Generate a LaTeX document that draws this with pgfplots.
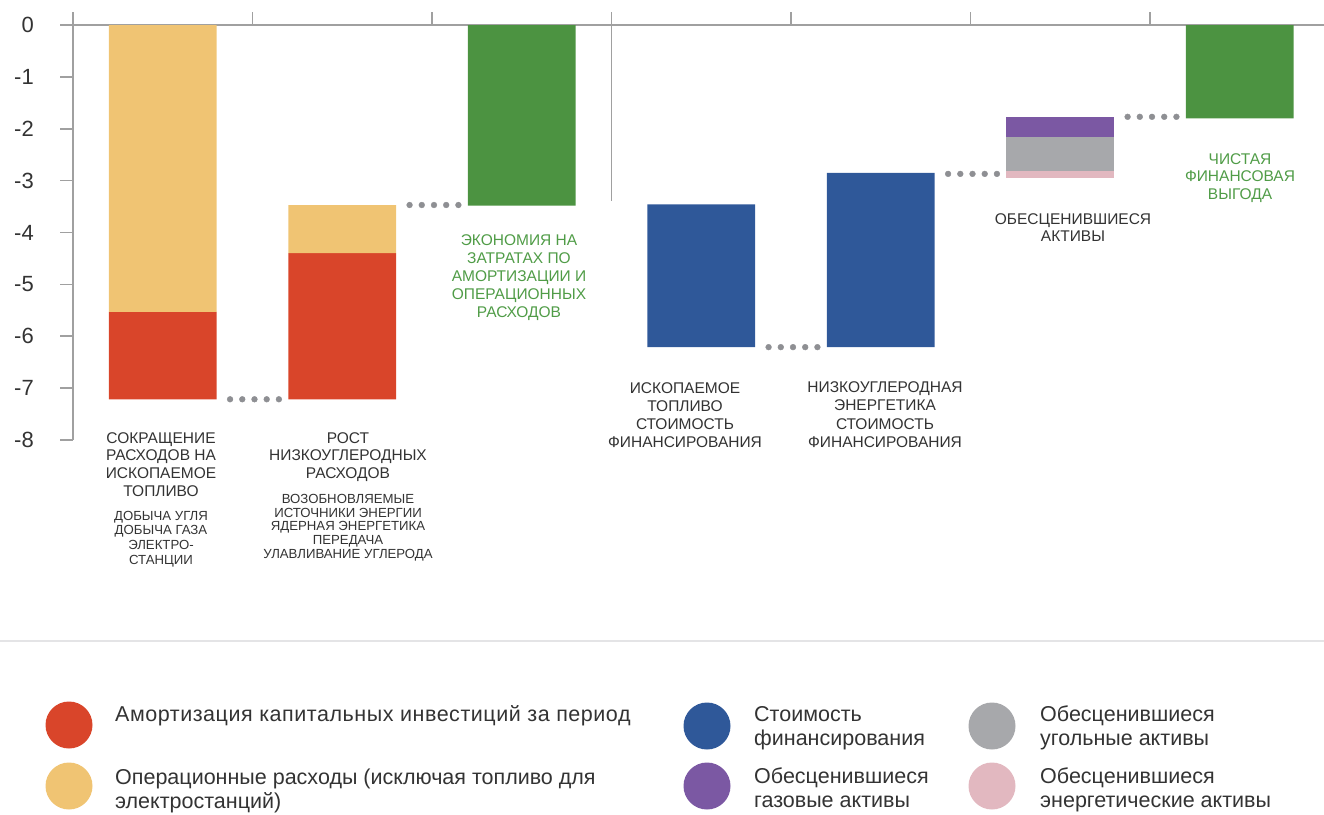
\documentclass[border=0pt]{standalone}
\usepackage{pgfplots}
\pgfplotsset{compat=1.18}
\usepackage{fontspec}
\setmainfont{Liberation Sans}
\definecolor{cRed}{HTML}{D9452A}
\definecolor{cYel}{HTML}{F0C473}
\definecolor{cGrn}{HTML}{4C9341}
\definecolor{cBlu}{HTML}{2F5899}
\definecolor{cPur}{HTML}{7B58A3}
\definecolor{cGry}{HTML}{A7A8AB}
\definecolor{cPnk}{HTML}{E2B8C0}
\definecolor{axisgray}{HTML}{A0A0A0}
\definecolor{dotgray}{HTML}{8E8F93}
\definecolor{txt}{HTML}{333333}
\definecolor{gtxt}{HTML}{509C47}
\definecolor{sepc}{HTML}{E4E4E6}
\newcommand{\catfont}{\fontsize{15.5}{17.7}\selectfont}
\newcommand{\subfont}{\fontsize{13.2}{14}\selectfont}
\newcommand{\legfont}{\fontsize{21.5}{24}\selectfont}
\newcommand{\mlines}[5]{\foreach \t [count=\i from 0] in {#5} {\node[anchor=base, inner sep=0pt, #4] at (#1pt,{-(#2+\i*#3)*1pt}) {\t};}}
\begin{document}
\begin{tikzpicture}
\useasboundingbox (0pt,0pt) rectangle (1324pt,-814pt);
\begin{axis}[
  at={(73pt,-25pt)}, anchor=north west,
  scale only axis, width=1251pt, height=415pt,
  xmin=-0.5, xmax=6.469, ymin=-8, ymax=0,
  axis x line*=top, axis y line*=left,
  axis line style={draw=axisgray, line width=1.5pt},
  tick style={draw=axisgray, line width=1.5pt},
  tick align=outside, major tick length=13pt,
  xtick={-0.5,0.5,1.5,2.5,3.5,4.5,5.5}, xticklabels={},
  ytick={-8,-7,-6,-5,-4,-3,-2,-1,0},
  yticklabels={-8,-7,-6,-5,-4,-3,-2,-1,0},
  yticklabel style={font=\fontsize{22}{22}\selectfont, text=txt, anchor=east, inner sep=0pt, xshift=-26pt},
  ybar stacked, bar width=0.6,
  clip=false,
]
% invisible base
\addplot[draw=none, fill=none] coordinates {(0,0) (1,-3.47) (2,0) (3,-3.46) (4,-2.85) (5,-1.77) (6,0)};
% operating costs
\addplot[draw=none, fill=cYel] coordinates {(0,-5.53) (1,-0.93) (2,0) (3,0) (4,0) (5,0) (6,0)};
% depreciation
\addplot[draw=none, fill=cRed] coordinates {(0,-1.685) (1,-2.815) (2,0) (3,0) (4,0) (5,0) (6,0)};
% savings / net benefit
\addplot[draw=none, fill=cGrn] coordinates {(0,0) (1,0) (2,-3.48) (3,0) (4,0) (5,0) (6,-1.80)};
% cost of financing
\addplot[draw=none, fill=cBlu] coordinates {(0,0) (1,0) (2,0) (3,-2.75) (4,-3.36) (5,0) (6,0)};
% stranded gas
\addplot[draw=none, fill=cPur] coordinates {(0,0) (1,0) (2,0) (3,0) (4,0) (5,-0.395) (6,0)};
% stranded coal
\addplot[draw=none, fill=cGry] coordinates {(0,0) (1,0) (2,0) (3,0) (4,0) (5,-0.655) (6,0)};
% stranded power
\addplot[draw=none, fill=cPnk] coordinates {(0,0) (1,0) (2,0) (3,0) (4,0) (5,-0.135) (6,0)};
\end{axis}
\begin{axis}[
  at={(73pt,-25pt)}, anchor=north west,
  scale only axis, width=1251pt, height=415pt,
  xmin=-0.5, xmax=6.469, ymin=-8, ymax=0,
  hide axis, clip=false,
]
\addplot[only marks, mark=*, mark size=2.9pt, color=dotgray] coordinates {
 (0.375,-7.215) (0.443,-7.215) (0.511,-7.215) (0.579,-7.215) (0.647,-7.215)
 (1.375,-3.47) (1.443,-3.47) (1.511,-3.47) (1.579,-3.47) (1.647,-3.47)
 (3.375,-6.21) (3.443,-6.21) (3.511,-6.21) (3.579,-6.21) (3.647,-6.21)
 (4.375,-2.87) (4.443,-2.87) (4.511,-2.87) (4.579,-2.87) (4.647,-2.87)
 (5.375,-1.77) (5.443,-1.77) (5.511,-1.77) (5.579,-1.77) (5.647,-1.77)};
\addplot[color=axisgray, line width=1.5pt] coordinates {(2.5,0) (2.5,-3.4)};
\end{axis}
% category labels
\mlines{161}{443}{17.7}{font=\catfont, text=txt}{СОКРАЩЕНИЕ,РАСХОДОВ НА,ИСКОПАЕМОЕ,ТОПЛИВО}
\mlines{161}{520}{14.7}{font=\subfont, text=txt}{ДОБЫЧА УГЛЯ,ДОБЫЧА ГАЗА,ЭЛЕКТРО-,СТАНЦИИ}
\mlines{348}{443}{17.9}{font=\catfont, text=txt}{РОСТ,НИЗКОУГЛЕРОДНЫХ,РАСХОДОВ}
\mlines{348}{503.3}{13.7}{font=\subfont, text=txt}{ВОЗОБНОВЛЯЕМЫЕ,ИСТОЧНИКИ ЭНЕРГИИ,ЯДЕРНАЯ ЭНЕРГЕТИКА,ПЕРЕДАЧА,УЛАВЛИВАНИЕ УГЛЕРОДА}
\mlines{519}{245}{18}{font=\catfont, text=gtxt}{ЭКОНОМИЯ НА,ЗАТРАТАХ ПО,АМОРТИЗАЦИИ И,ОПЕРАЦИОННЫХ,РАСХОДОВ}
\mlines{685}{393}{18.2}{font=\catfont, text=txt}{ИСКОПАЕМОЕ,ТОПЛИВО,СТОИМОСТЬ,ФИНАНСИРОВАНИЯ}
\mlines{885}{392.5}{18.3}{font=\catfont, text=txt}{НИЗКОУГЛЕРОДНАЯ,ЭНЕРГЕТИКА,СТОИМОСТЬ,ФИНАНСИРОВАНИЯ}
\mlines{1073}{224}{17.7}{font=\catfont, text=txt}{ОБЕСЦЕНИВШИЕСЯ,АКТИВЫ}
\mlines{1240}{164}{17.5}{font=\catfont, text=gtxt}{ЧИСТАЯ,ФИНАНСОВАЯ,ВЫГОДА}
% separator
\draw[sepc, line width=2pt] (0pt,-641pt) -- (1324pt,-641pt);
% legend
\fill[cRed] (69pt,-725pt) circle (23.5pt);
\fill[cYel] (69pt,-786pt) circle (23.5pt);
\fill[cBlu] (707pt,-726pt) circle (23.5pt);
\fill[cPur] (707pt,-786pt) circle (23.5pt);
\fill[cGry] (992pt,-726pt) circle (23.5pt);
\fill[cPnk] (992pt,-786pt) circle (23.5pt);
\begin{scope}[every node/.style={anchor=base west, inner sep=0pt, font=\legfont, text=txt}]
\node at (115pt,-721pt) {\addfontfeature{LetterSpace=2.5}Амортизация капитальных инвестиций за период};
\node at (115pt,-784pt) {Операционные расходы (исключая топливо для};
\node at (115pt,-808pt) {электростанций)};
\node at (754pt,-721pt) {Стоимость};
\node at (754pt,-745pt) {финансирования};
\node at (754pt,-783pt) {Обесценившиеся};
\node at (754pt,-807pt) {газовые активы};
\node at (1040pt,-721pt) {Обесценившиеся};
\node at (1040pt,-745pt) {угольные активы};
\node at (1040pt,-783pt) {Обесценившиеся};
\node at (1040pt,-807pt) {энергетические активы};
\end{scope}
\end{tikzpicture}
\end{document}
